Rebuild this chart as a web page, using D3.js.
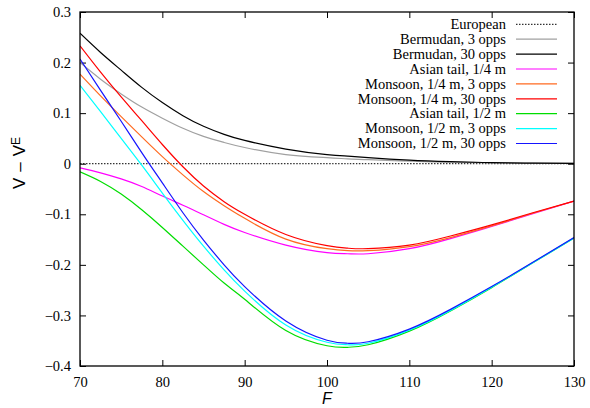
<!DOCTYPE html>
<html>
<head>
<meta charset="utf-8">
<script src="https://cdn.jsdelivr.net/npm/d3@7"></script>
<style>
  body { margin: 0; background: #fff; }
</style>
</head>
<body>
<div id="chart"></div>
<script>
// values, F on the x axis, V - V^E on the y axis
var fGrid = [70, 72.5, 75, 77.5, 80, 82.5, 85, 87.5, 90, 95, 100, 102.5, 105, 110, 115, 120, 125, 130];

var bermudan3  = [0.200, 0.167, 0.138, 0.112, 0.090, 0.070, 0.054, 0.042, 0.032, 0.018, 0.012, 0.0095, 0.008, 0.005, 0.003, 0.0018, 0.001, 0.0005];
var bermudan30 = [0.258, 0.220, 0.185, 0.151, 0.121, 0.095, 0.074, 0.058, 0.046, 0.029, 0.018, 0.015, 0.012, 0.007, 0.004, 0.002, 0.001, 0.0005];
var asian14    = [-0.008, -0.018, -0.030, -0.045, -0.064, -0.082, -0.101, -0.120, -0.136, -0.161, -0.176, -0.178, -0.178, -0.168, -0.148, -0.124, -0.099, -0.074];
var monsoon14_3  = [0.177, 0.134, 0.093, 0.053, 0.014, -0.022, -0.055, -0.083, -0.108, -0.149, -0.168, -0.172, -0.172, -0.164, -0.146, -0.123, -0.098, -0.074];
var monsoon14_30 = [0.233, 0.181, 0.132, 0.085, 0.038, -0.006, -0.044, -0.075, -0.100, -0.140, -0.162, -0.167, -0.168, -0.161, -0.143, -0.121, -0.097, -0.074];
var asian12    = [-0.016, -0.035, -0.060, -0.091, -0.126, -0.163, -0.200, -0.236, -0.268, -0.330, -0.360, -0.363, -0.358, -0.331, -0.291, -0.245, -0.196, -0.147];
var monsoon12_3  = [0.155, 0.103, 0.050, -0.003, -0.058, -0.112, -0.163, -0.210, -0.252, -0.319, -0.353, -0.358, -0.355, -0.329, -0.290, -0.244, -0.196, -0.147];
var monsoon12_30 = [0.207, 0.145, 0.084, 0.022, -0.038, -0.097, -0.151, -0.200, -0.243, -0.311, -0.349, -0.355, -0.352, -0.327, -0.288, -0.243, -0.195, -0.146];
var european   = fGrid.map(function() { return 0; });

var seriesNames = ["European", "Bermudan, 3 opps", "Bermudan, 30 opps", "Asian tail, 1/4 m",
  "Monsoon, 1/4 m, 3 opps", "Monsoon, 1/4 m, 30 opps", "Asian tail, 1/2 m",
  "Monsoon, 1/2 m, 3 opps", "Monsoon, 1/2 m, 30 opps"];
var seriesValues = [european, bermudan3, bermudan30, asian14, monsoon14_3, monsoon14_30, asian12, monsoon12_3, monsoon12_30];
var seriesColors = ["#000", "#a0a0a0", "#000", "#ff00ff", "#ff6a20", "#ff0000", "#00dd00", "#00ffff", "#1515ff"];

var xTicks = [70, 80, 90, 100, 110, 120, 130];
var yTicks = [-0.4, -0.3, -0.2, -0.1, 0, 0.1, 0.2, 0.3];

var serif = "Liberation Serif, DejaVu Serif, serif";
var sans = "Liberation Sans, Arial, sans-serif";

// chart setup
var svgWidth = 590, svgHeight = 408;
var margin = { top: 12, right: 16, bottom: 42, left: 80 };
var width = svgWidth - margin.left - margin.right;
var height = svgHeight - margin.top - margin.bottom;

var svg = d3.select("#chart").append("svg")
  .attr("width", svgWidth)
  .attr("height", svgHeight);

var chartGroup = svg.append("g")
  .attr("transform", `translate(${margin.left}, ${margin.top})`);

var x = d3.scaleLinear().domain([70, 130]).range([0, width]);
var y = d3.scaleLinear().domain([-0.4, 0.3]).range([height, 0]);

// axes, ticks pointing inwards on all four sides
var fmtY = function(d) { return d === 0 ? "0" : d3.format(".1f")(d); };

var axisGroups = [];
axisGroups.push(chartGroup.append("g")
  .attr("transform", `translate(0, ${height})`)
  .call(d3.axisBottom(x).tickValues(xTicks).tickSize(-6).tickPadding(11).tickFormat(d3.format("d"))));

axisGroups.push(chartGroup.append("g")
  .call(d3.axisTop(x).tickValues(xTicks).tickSize(-6).tickFormat("")));

axisGroups.push(chartGroup.append("g")
  .call(d3.axisLeft(y).tickValues(yTicks).tickSize(-6).tickPadding(9).tickFormat(fmtY)));

axisGroups.push(chartGroup.append("g")
  .attr("transform", `translate(${width}, 0)`)
  .call(d3.axisRight(y).tickValues(yTicks).tickSize(-6).tickFormat("")));

axisGroups.forEach(function(g) {
  g.attr("font-family", serif).attr("font-size", 14.5);
  g.select(".domain").remove();
});

chartGroup.selectAll(".tick line").attr("stroke", "#000");
chartGroup.selectAll(".tick text").attr("fill", "#000");

// curves
chartGroup.append("clipPath").attr("id", "plotClip")
  .append("rect").attr("width", width).attr("height", height);

var line = d3.line()
  .x(function(d, i) { return x(fGrid[i]); })
  .y(function(d) { return y(d); })
  .curve(d3.curveNatural);

chartGroup.append("g").attr("clip-path", "url(#plotClip)")
  .selectAll("path")
  .data(seriesValues)
  .enter()
  .append("path")
  .attr("d", line)
  .attr("fill", "none")
  .attr("stroke", (d, i) => seriesColors[i])
  .attr("stroke-width", (d, i) => i === 0 ? 1 : 1.2)
  .attr("stroke-dasharray", (d, i) => i === 0 ? "1.5,1.5" : null);

// frame
chartGroup.append("rect")
  .attr("width", width).attr("height", height)
  .attr("fill", "none").attr("stroke", "#000").attr("stroke-width", 1.3);

// legend
var legend = chartGroup.append("g")
  .attr("font-family", serif)
  .attr("font-size", 14.5);
seriesNames.forEach(function(name, i) {
  var ly = 12.3 + i * 14.9;
  legend.append("text")
    .attr("x", 426).attr("y", ly).attr("dy", "0.33em")
    .attr("text-anchor", "end")
    .text(name);
  legend.append("line")
    .attr("x1", 436).attr("x2", 477).attr("y1", ly).attr("y2", ly)
    .attr("stroke", seriesColors[i])
    .attr("stroke-width", i === 0 ? 1 : 1.2)
    .attr("stroke-dasharray", i === 0 ? "1.5,1.5" : null);
});

// axis labels
var yLabel = svg.append("text")
  .attr("transform", "translate(25, 163) rotate(-90)")
  .attr("text-anchor", "middle")
  .attr("font-family", sans)
  .attr("font-size", 17);
yLabel.append("tspan").text("V");
yLabel.append("tspan").attr("dx", 6).text("\u2013");
yLabel.append("tspan").attr("dx", 6).text("V");
yLabel.append("tspan").attr("dy", "-0.45em").attr("font-size", 12).text("E");

svg.append("text")
  .attr("x", margin.left + width / 2).attr("y", 404)
  .attr("text-anchor", "middle")
  .attr("font-family", sans)
  .attr("font-size", 16)
  .attr("font-style", "italic")
  .text("F");
</script>
</body>
</html>
